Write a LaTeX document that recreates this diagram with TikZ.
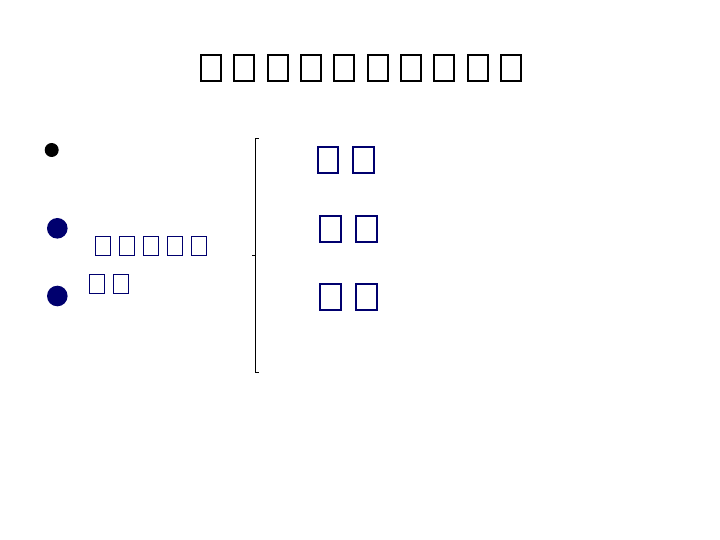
\documentclass[tikz,border=0pt]{standalone}
\definecolor{navy}{RGB}{0,0,110}
\tikzset{
  titlebox/.style={draw=black,line width=2pt,minimum width=20pt,minimum height=26pt,inner sep=0pt},
  bigbox/.style={draw=navy,line width=2pt,minimum width=20.7pt,minimum height=26pt,inner sep=0pt},
  smallbox/.style={draw=navy,line width=1.2pt,minimum width=14.8pt,minimum height=18.8pt,inner sep=0pt},
  bracketline/.style={draw=black,line width=1pt}
}
\begin{document}
\begin{tikzpicture}[x=1pt,y=-1pt]
\useasboundingbox (0,0) rectangle (720,540);
% title
\foreach \i in {0,...,9}{
  \node[titlebox] (t\i) at ({211+33.35*\i},68) {};
}
% bullets
\fill[black] (51.7,150) circle (7);
\fill[navy] (57.3,228.3) circle (10.3);
\fill[navy] (57.3,296) circle (10.3);
% left small boxes
\foreach \i in {0,...,4}{
  \node[smallbox] (a\i) at ({103+24*\i},245.8) {};
}
\foreach \i in {0,1}{
  \node[smallbox] (b\i) at ({96.8+24*\i},283.8) {};
}
% bracket
\draw[bracketline] (258.7,138.3) -- (255.7,138.3) -- (255.7,372.3) -- (258.7,372.3);
\draw[bracketline] (255.7,255.7) -- (252,255.7);
% right boxes
\node[bigbox] (r1a) at (328,159.7) {};
\node[bigbox] (r1b) at (363.7,159.7) {};
\node[bigbox] (r2a) at (330.8,228.8) {};
\node[bigbox] (r2b) at (366.7,228.8) {};
\node[bigbox] (r3a) at (330.8,296.8) {};
\node[bigbox] (r3b) at (366.7,296.8) {};
\end{tikzpicture}
\end{document}
